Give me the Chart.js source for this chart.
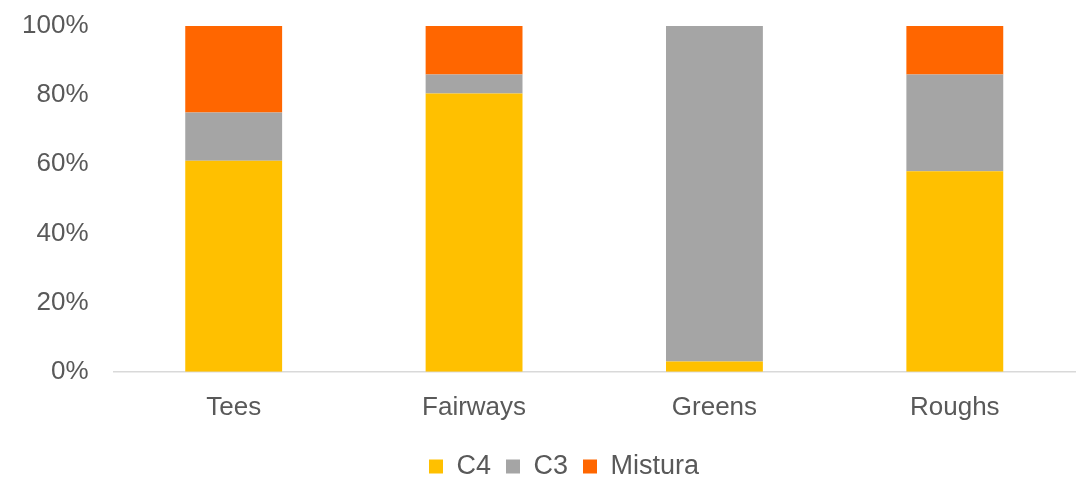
<!DOCTYPE html>
<html>
<head>
<meta charset="utf-8">
<script src="https://cdn.jsdelivr.net/npm/chart.js@4/dist/chart.umd.min.js"></script>
<style>
  html, body { margin: 0; padding: 0; background: #fff; }
  #wrap { width: 1084px; height: 481px; position: relative; }
</style>
</head>
<body>
<div id="wrap"><canvas id="chart"></canvas></div>
<script>
'use strict';

const CATEGORIES = ['Tees', 'Fairways', 'Greens', 'Roughs'];
const C4      = [61, 80.5, 3, 58];
const C3      = [14, 5.5, 97, 28];
const MISTURA = [25, 14, 0, 14];
const Y_TICKS = [0, 20, 40, 60, 80, 100];

const FONT = "'Liberation Sans', Arial, sans-serif";
const TEXT = '#595959';
const LEGEND_SHIFT = 24;

function ds(label, data, color) {
  return {
    label, data,
    backgroundColor: color,
    borderWidth: 0,
    barPercentage: 0.403,
    categoryPercentage: 1,
  };
}

// legend in the original sits a little right of centre
const legendShift = {
  id: 'legendShift',
  afterLayout(c) { c.legend.left += LEGEND_SHIFT; c.legend.right += LEGEND_SHIFT; },
};

new Chart(document.getElementById('chart'), {
  type: 'bar',
  data: {
    labels: CATEGORIES,
    datasets: [
      ds('C4', C4, '#FFC000'),
      ds('C3', C3, '#A5A5A5'),
      ds('Mistura', MISTURA, '#FF6600'),
    ],
  },
  plugins: [legendShift],
  options: {
    responsive: true,
    maintainAspectRatio: false,
    animation: false,
    layout: { padding: { left: 5, right: 9, top: 26, bottom: -9 } },
    scales: {
      x: {
        stacked: true,
        grid: { display: false },
        border: { display: true, color: '#D9D9D9', width: 1.5 },
        ticks: { color: TEXT, font: { family: FONT, size: 26 }, padding: 12 },
        afterFit: s => { s.height += 3; },
      },
      y: {
        stacked: true,
        min: 0, max: 100,
        afterBuildTicks: axis => { axis.ticks = Y_TICKS.map(v => ({ value: v })); },
        afterFit: s => { s.paddingTop = 0; },
        grid: { display: false },
        border: { display: false },
        ticks: { color: TEXT, font: { family: FONT, size: 26 }, padding: 17, callback: v => v + '%' },
      },
    },
    plugins: {
      legend: {
        position: 'bottom',
        labels: {
          color: TEXT,
          font: { family: FONT, size: 27 },
          boxWidth: 14, boxHeight: 14,
          padding: 15,
        },
      },
      tooltip: { enabled: false },
    },
  },
});
</script>
</body>
</html>
